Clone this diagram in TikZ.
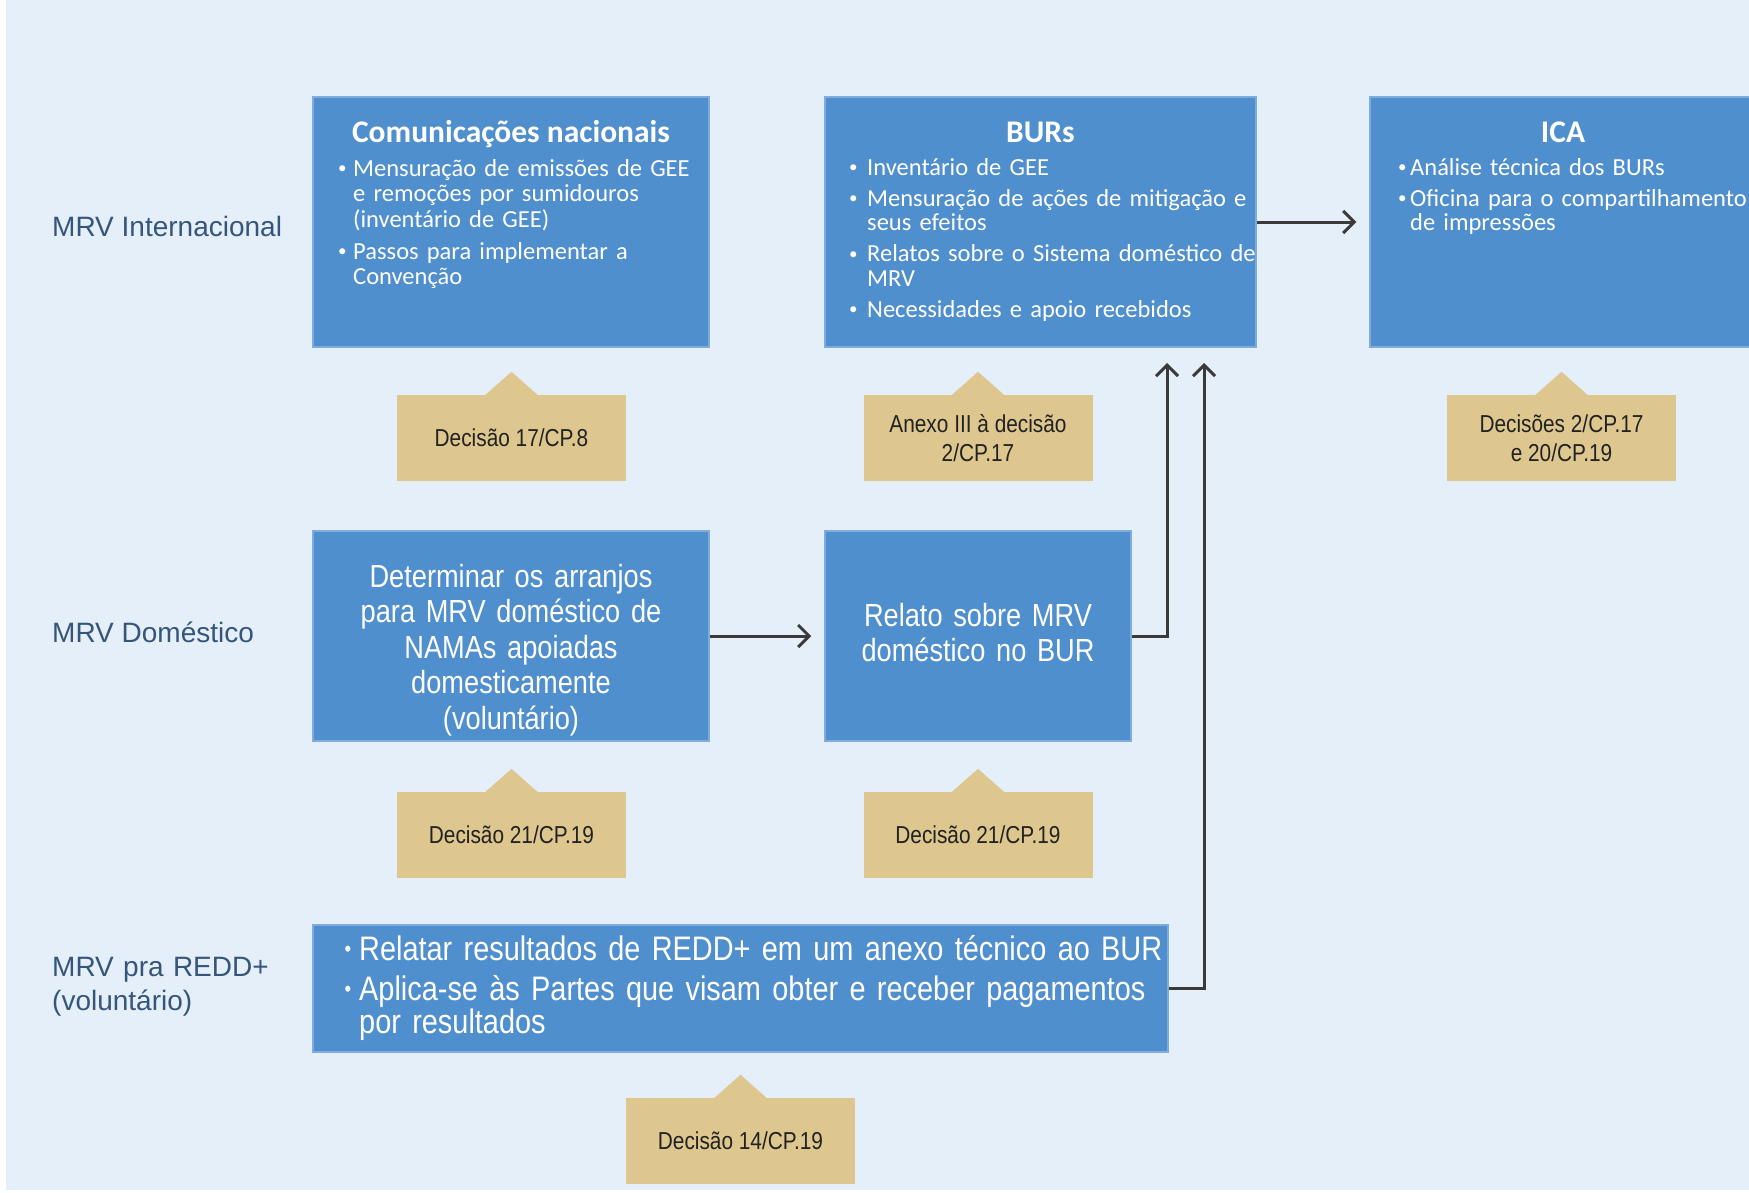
\documentclass[tikz,border=0pt]{standalone}
\usepackage{fontspec}
\setmainfont{Liberation Sans}
\newfontfamily\calfont{Carlito}
\newfontfamily\narrowfont[FakeStretch=0.85]{Liberation Sans}
\usetikzlibrary{arrows.meta}

\definecolor{bgblue}{HTML}{E5EFF9}
\definecolor{boxblue}{HTML}{508FCD}
\definecolor{boxedge}{HTML}{7EADDD}
\definecolor{tanfill}{HTML}{DEC78F}
\definecolor{labelblue}{HTML}{35557A}
\definecolor{linegray}{HTML}{3A3A3A}
\definecolor{notetext}{HTML}{222222}

% forced line break inside a bullet item (keeps the hanging indent)
\newcommand{\nl}{\hfil\break}
% bullet item: #1 = indent of the text, #2 = item text
\newcommand{\bitem}[2]{\noindent\hangindent=#1\hangafter=1\makebox[#1][l]{\raisebox{2.5pt}{\fontsize{17}{17}\selectfont\textbullet}}#2\par\vskip6.5pt}
\newcommand{\nitem}[2]{\noindent\hangindent=#1\hangafter=1\makebox[#1][l]{\raisebox{4pt}{\fontsize{22}{22}\selectfont\textbullet}}#2\par\vskip7pt}

\begin{document}
\begin{tikzpicture}[x=1pt,y=-1pt,
  bluebox/.style={fill=boxblue, draw=boxedge, line width=1.5pt, inner sep=0pt},
  boxtitle/.style={text=white, inner sep=0pt, font=\calfont\bfseries\fontsize{31.5}{34}\selectfont},
  boxlist/.style={text=white, inner sep=0pt, align=left, text width=600pt,
    font=\calfont\fontsize{24.5}{24.5}\selectfont},
  boxnarrow/.style={text=white, inner sep=0pt, align=center,
    font=\narrowfont\fontsize{32}{35.6}\selectfont},
  decisao/.style={fill=tanfill, inner sep=0pt, minimum width=229pt, minimum height=86pt,
    align=center, text=notetext, font=\narrowfont\fontsize{24.5}{29}\selectfont},
  rowlabel/.style={text=labelblue, inner sep=0pt, align=left,
    font=\fontsize{28}{34}\selectfont},
  conn/.style={draw=linegray, line width=3pt,
    -{Straight Barb[length=11pt,width=22pt]}}
]
% page and background
\fill[white] (0,0) rectangle (1749,1192);
\fill[bgblue] (6,0) rectangle (1749,1190);
\useasboundingbox (0,0) rectangle (1749,1192);

% row labels
\node[rowlabel, anchor=base west] (rowInt) at (52,236) {MRV Internacional};
\node[rowlabel, anchor=base west] (rowDom) at (52,642) {MRV Doméstico};
\node[rowlabel, anchor=base west, text width=250pt] (rowRedd) at (52,976) {MRV pra REDD+\\(voluntário)};

% top row boxes
\node[bluebox, minimum width=396pt, minimum height=250pt] (comm) at (511,222) {};
\node[bluebox, minimum width=431pt, minimum height=250pt] (burs) at (1040.5,222) {};
\node[bluebox, minimum width=387pt, minimum height=250pt] (ica) at (1563.5,222) {};

\node[boxtitle, anchor=base] (commT) at (511,142) {Comunicações nacionais};
\node[boxlist, anchor=base west, font=\calfont\fontsize{24.5}{25.5}\selectfont] (commL) at (338,176) {%
  \bitem{15pt}{Mensuração de emissões de GEE\nl e remoções por sumidouros\nl (inventário de GEE)}%
  \bitem{15pt}{Passos para implementar a\nl Convenção}};

\node[boxtitle, anchor=base] (bursT) at (1040.5,142) {BURs};
\node[boxlist, anchor=base west] (bursL) at (849,175) {%
  \bitem{18pt}{Inventário de GEE}%
  \bitem{18pt}{Mensuração de ações de mitigação e\nl seus efeitos}%
  \bitem{18pt}{Relatos sobre o Sistema doméstico de\nl MRV}%
  \bitem{18pt}{Necessidades e apoio recebidos}};

\node[boxtitle, anchor=base] (icaT) at (1563,142) {ICA};
\node[boxlist, anchor=base west] (icaL) at (1398,175) {%
  \bitem{12pt}{Análise técnica dos BURs}%
  \bitem{12pt}{Oficina para o compartilhamento\nl de impressões}};

% domestic row boxes
\node[bluebox, minimum width=396pt, minimum height=210pt] (det) at (511,636) {};
\node[bluebox, minimum width=306pt, minimum height=210pt] (rel) at (978,636) {};
\node[boxnarrow, anchor=base, text width=396pt] (detT) at (511,587)
  {Determinar os arranjos\\para MRV doméstico de\\NAMAs apoiadas\\domesticamente\\(voluntário)};
\node[boxnarrow, anchor=base, text width=306pt] (relT) at (978,626)
  {Relato sobre MRV\\doméstico no BUR};

% REDD+ row box
\node[bluebox, minimum width=855pt, minimum height=127pt] (redd) at (740.5,988.5) {};
\node[text=white, inner sep=0pt, align=left, text width=1000pt, anchor=base west,
  font=\narrowfont\fontsize{34}{33}\selectfont] (reddL) at (344.5,960) {%
  \nitem{14.5pt}{Relatar resultados de REDD+ em um anexo técnico ao BUR}%
  \nitem{14.5pt}{Aplica-se às Partes que visam obter e receber pagamentos\nl por resultados}};

% decision notes
\node[decisao] (d1) at (511.5,438) {Decisão 17/CP.8};
\node[decisao] (d2) at (978,438) {Anexo III à decisão\\2/CP.17};
\node[decisao] (d3) at (1561.5,438) {Decisões 2/CP.17\\e 20/CP.19};
\node[decisao] (d4) at (511.5,835) {Decisão 21/CP.19};
\node[decisao] (d5) at (978,835) {Decisão 21/CP.19};
\node[decisao] (d6) at (740.5,1141) {Decisão 14/CP.19};
\foreach \n in {d1,d2,d3,d4,d5,d6}
  \fill[tanfill] ([xshift=-26pt]\n.north) -- ([yshift=23pt]\n.north)
    -- ([xshift=26pt]\n.north) -- cycle;

% connectors
\coordinate (tipA) at (1167,363);
\coordinate (tipB) at (1204,363);
\draw[conn, shorten >=13pt] (burs.east) -- (ica.west);
\draw[conn, shorten >=13pt] (det.east) -- (rel.west);
\draw[conn] (rel.east) -| (tipA);
\draw[conn] (redd.east) -| (tipB);
\end{tikzpicture}
\end{document}
